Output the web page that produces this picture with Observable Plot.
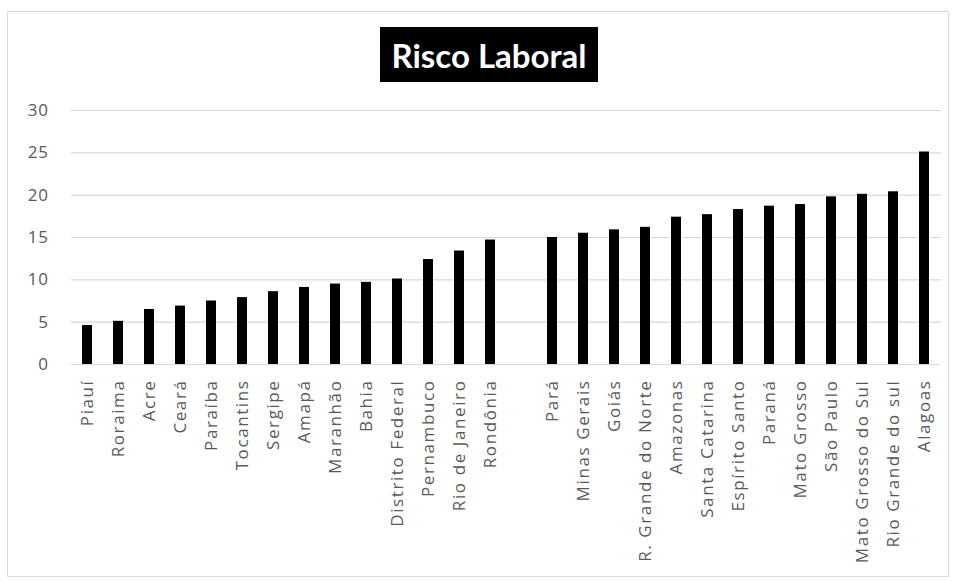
<!DOCTYPE html>
<html>
<head>
<meta charset="utf-8">
<script src="https://cdn.jsdelivr.net/npm/d3@7"></script>
<script src="https://cdn.jsdelivr.net/npm/@observablehq/plot@0.6"></script>
<style>
  html, body { margin: 0; padding: 0; background: #fff; }
  #wrap { position: relative; width: 957px; height: 581px; }
  #frame { position: absolute; left: 7px; top: 11px; width: 942px; height: 566px; border: 1px solid #d9d9d9; box-sizing: border-box; }
  #title { position: absolute; left: 380px; top: 27px; width: 218px; height: 55px; background: #000; color: #fff;
           font: bold 33px Lato, sans-serif; display: flex; align-items: center; justify-content: center; }
  #chart { position: absolute; left: 0; top: 0; }
</style>
</head>
<body>
<div id="wrap">
  <div id="frame"></div>
  <div id="chart"></div>
  <div id="title">Risco Laboral</div>
</div>
<script>
// States with the lower index values
const groupLow = ["Piauí", "Roraima", "Acre", "Ceará", "Paraíba", "Tocantins", "Sergipe", "Amapá",
  "Maranhão", "Bahia", "Distrito Federal", "Pernambuco", "Rio de Janeiro", "Rondônia"];
const valuesLow = [4.6, 5.1, 6.5, 6.9, 7.5, 7.9, 8.6, 9.1, 9.5, 9.7, 10.1, 12.4, 13.4, 14.7];

// States with the higher index values
const groupHigh = ["Pará", "Minas Gerais", "Goiás", "R. Grande do Norte", "Amazonas", "Santa Catarina",
  "Espírito Santo", "Paraná", "Mato Grosso", "São Paulo", "Mato Grosso do Sul", "Rio Grande do sul", "Alagoas"];
const valuesHigh = [15.0, 15.5, 15.9, 16.2, 17.4, 17.7, 18.3, 18.7, 18.9, 19.8, 20.1, 20.4, 25.1];

const yTicks = [0, 5, 10, 15, 20, 25, 30];

// an empty slot separates the two groups
const gap = " ";
const domain = [...groupLow, gap, ...groupHigh];
const rows = [
  ...groupLow.map((estado, i) => ({estado, valor: valuesLow[i]})),
  ...groupHigh.map((estado, i) => ({estado, valor: valuesHigh[i]}))
];

const chart = Plot.plot({
  width: 957,
  height: 581,
  marginLeft: 71,
  marginRight: 16,
  marginTop: 110,
  marginBottom: 217,
  style: {fontFamily: "'Open Sans', sans-serif", fontSize: "16px", color: "#595959", background: "transparent"},
  x: {domain, paddingInner: 0.67, paddingOuter: 0.335, label: null},
  y: {domain: [0, 30], ticks: yTicks, label: null},
  marks: [
    Plot.ruleY(yTicks, {stroke: "#d9d9d9", strokeWidth: 1.2}),
    Plot.barY(rows, {x: "estado", y: "valor", fill: "#000"}),
    Plot.axisY({ticks: yTicks, tickSize: 0, tickPadding: 23, fontSize: 17, label: null}),
    Plot.axisX({tickSize: 0, tickRotate: -90, tickPadding: 15, fontSize: 17, label: null,
                tickFormat: d => d === gap ? "" : d})
  ]
});

// widen the state names a little, as in the printed layout
d3.select(chart).selectAll('g[aria-label="x-axis tick label"]').style("letter-spacing", "1.6px");
d3.select(chart).selectAll('g[aria-label="y-axis tick label"]').style("letter-spacing", "0.6px");

document.getElementById("chart").appendChild(chart);
</script>
</body>
</html>
